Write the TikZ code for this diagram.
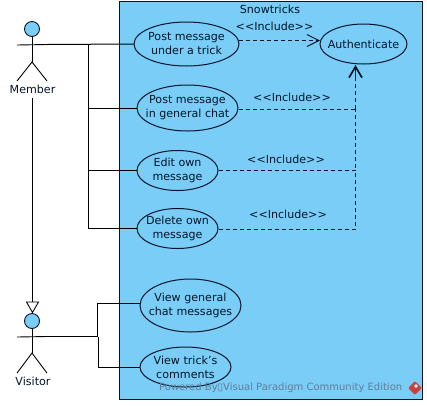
\documentclass[tikz,border=0pt]{standalone}
\usepackage{fontspec}
\setmainfont{DejaVu Sans}
\usetikzlibrary{shapes.geometric,arrows.meta}
\definecolor{ucfill}{HTML}{7ACDF6}
\definecolor{ucline}{HTML}{04152A}
\definecolor{wmark}{HTML}{5F7F9A}
\definecolor{logored}{HTML}{C9403F}
\tikzset{
  x=1pt,y=-1pt,
  usecase/.style={draw=ucline,fill=ucfill,ellipse,inner sep=-20pt,line width=1pt,align=center,text=ucline,
    font=\fontsize{11.1}{14}\selectfont},
  txt/.style={text=ucline,inner sep=0pt,font=\fontsize{11.1}{13}\selectfont},
  assoc/.style={draw=black,line width=1pt},
  incl/.style={draw=ucline,line width=1pt,dash pattern=on 4pt off 3pt},
  limb/.style={draw=black,line width=0.9pt},
  head/.style={circle,draw=ucline,fill=ucfill,line width=0.9pt,minimum size=15pt,inner sep=0pt},
}
\begin{document}
\begin{tikzpicture}
\useasboundingbox (0,0) rectangle (427,405);
\fill[white] (0,0) rectangle (427,405);
\node[draw=ucline,fill=ucfill,line width=1pt,minimum width=303.5pt,minimum height=398pt,inner sep=0pt,anchor=north west] (sys) at (118.5,1) {};
\node[txt] (title) at (270,9) {Snowtricks};
% use cases
\node[usecase,minimum width=105pt,minimum height=44pt] (uc1) at (186.5,44) {Post message\\under a trick};
\node[usecase,minimum width=101pt,minimum height=46pt] (uc2) at (187.5,108) {Post message\\in general chat};
\node[usecase,minimum width=81pt,minimum height=40pt] (uc3) at (177.5,170.5) {Edit own\\message};
\node[usecase,minimum width=81pt,minimum height=40pt] (uc4) at (177.5,228.5) {Delete own\\message};
\node[usecase,minimum width=101pt,minimum height=53pt] (uc5) at (190.5,305.5) {View general\\chat messages};
\node[usecase,minimum width=91pt,minimum height=40pt] (uc6) at (185.5,367) {View trick's\\comments};
\node[usecase,minimum width=87pt,minimum height=40pt] (auth) at (363.5,44) {Authenticate};
% actors
\node[head] (mhead) at (32,29) {};
\coordinate (mhip) at (32,62);
\coordinate (mhand) at (47,44.5);
\coordinate (mlhand) at (17,45);
\draw[limb] (mhead.south) -- (mhip);
\draw[limb] (mlhand) -- (mhand);
\draw[limb] (17,81) -- (mhip) -- (47,81);
\node[txt] (mlabel) at (32.5,89) {Member};
\node[head] (vhead) at (32,321) {};
\coordinate (vhip) at (32,353);
\coordinate (vhand) at (47,336.5);
\coordinate (vlhand) at (17,337);
\draw[limb] (vhead.south) -- (vhip);
\draw[limb] (vlhand) -- (vhand);
\draw[limb] (17,373) -- (vhip) -- (47,373);
\node[txt] (vlabel) at (33,381) {Visitor};
% generalisation
\coordinate (gtop) at (32.5,98);
\coordinate (gbase) at (32.5,302);
\coordinate (gtip) at (32.5,312.5);
\draw[assoc] (gtop) -- (gbase);
\draw[limb] (26.5,302) -- (38.5,302) -- (gtip) -- cycle;
% member associations
\coordinate (mtrunk) at (88.5,44);
\draw[assoc] (mhand) -- (uc1.west);
\draw[assoc] (mtrunk) |- (uc2.west);
\draw[assoc] (mtrunk) |- (uc3.west);
\draw[assoc] (mtrunk) |- (uc4.west);
% visitor associations
\coordinate (vj1) at (97.5,336.5);
\coordinate (vj2) at (98.5,337);
\draw[assoc,line width=1.7pt] (vhand) -- (vj1);
\draw[assoc] (vj1) |- (uc5.west |- 0,303);
\draw[assoc] (vj2) |- (uc6.west);
% includes
\coordinate (ijoin) at (355.5,65);
\coordinate (i2) at (355.5,109);
\coordinate (i3) at (355.5,170.5);
\coordinate (i4) at (355.5,229);
\coordinate (u1e) at (239,40.5);
\coordinate (ae) at (320,40.5);
\draw[incl,-{Straight Barb[length=12pt,width=12pt]}] (u1e) -- (ae);
\draw[incl] (uc2.east |- i2) -- (i2);
\draw[incl,line width=1.4pt] (i2) -- (ijoin);
\draw[incl] (uc3.east) -- (i3) -- (i2);
\draw[incl] (uc4.east |- i4) -- (i4) -- (i3);
\draw[draw=ucline,line width=1.7pt,-{Straight Barb[length=11pt,width=13pt]}] (355.5,80) -- (ijoin);
\node[txt] (l1) at (274.5,26) {<{}<Include>{}>};
\node[txt] (l2) at (292,97) {<{}<Include>{}>};
\node[txt] (l3) at (286,159) {<{}<Include>{}>};
\node[txt] (l4) at (288,214) {<{}<Include>{}>};
% watermark
\node[text=wmark,inner sep=0pt,anchor=west,font=\fontsize{10}{13}\selectfont] (wm) at (159,388) {Powered By▯Visual Paradigm Community Edition};
\node[diamond,fill=logored,minimum size=14pt,inner sep=0pt,rounded corners=1pt] (logo) at (415,388) {};
\node[diamond,fill=white,minimum size=4pt,inner sep=0pt] (logomark) at (416,386) {};
\end{tikzpicture}
\end{document}
